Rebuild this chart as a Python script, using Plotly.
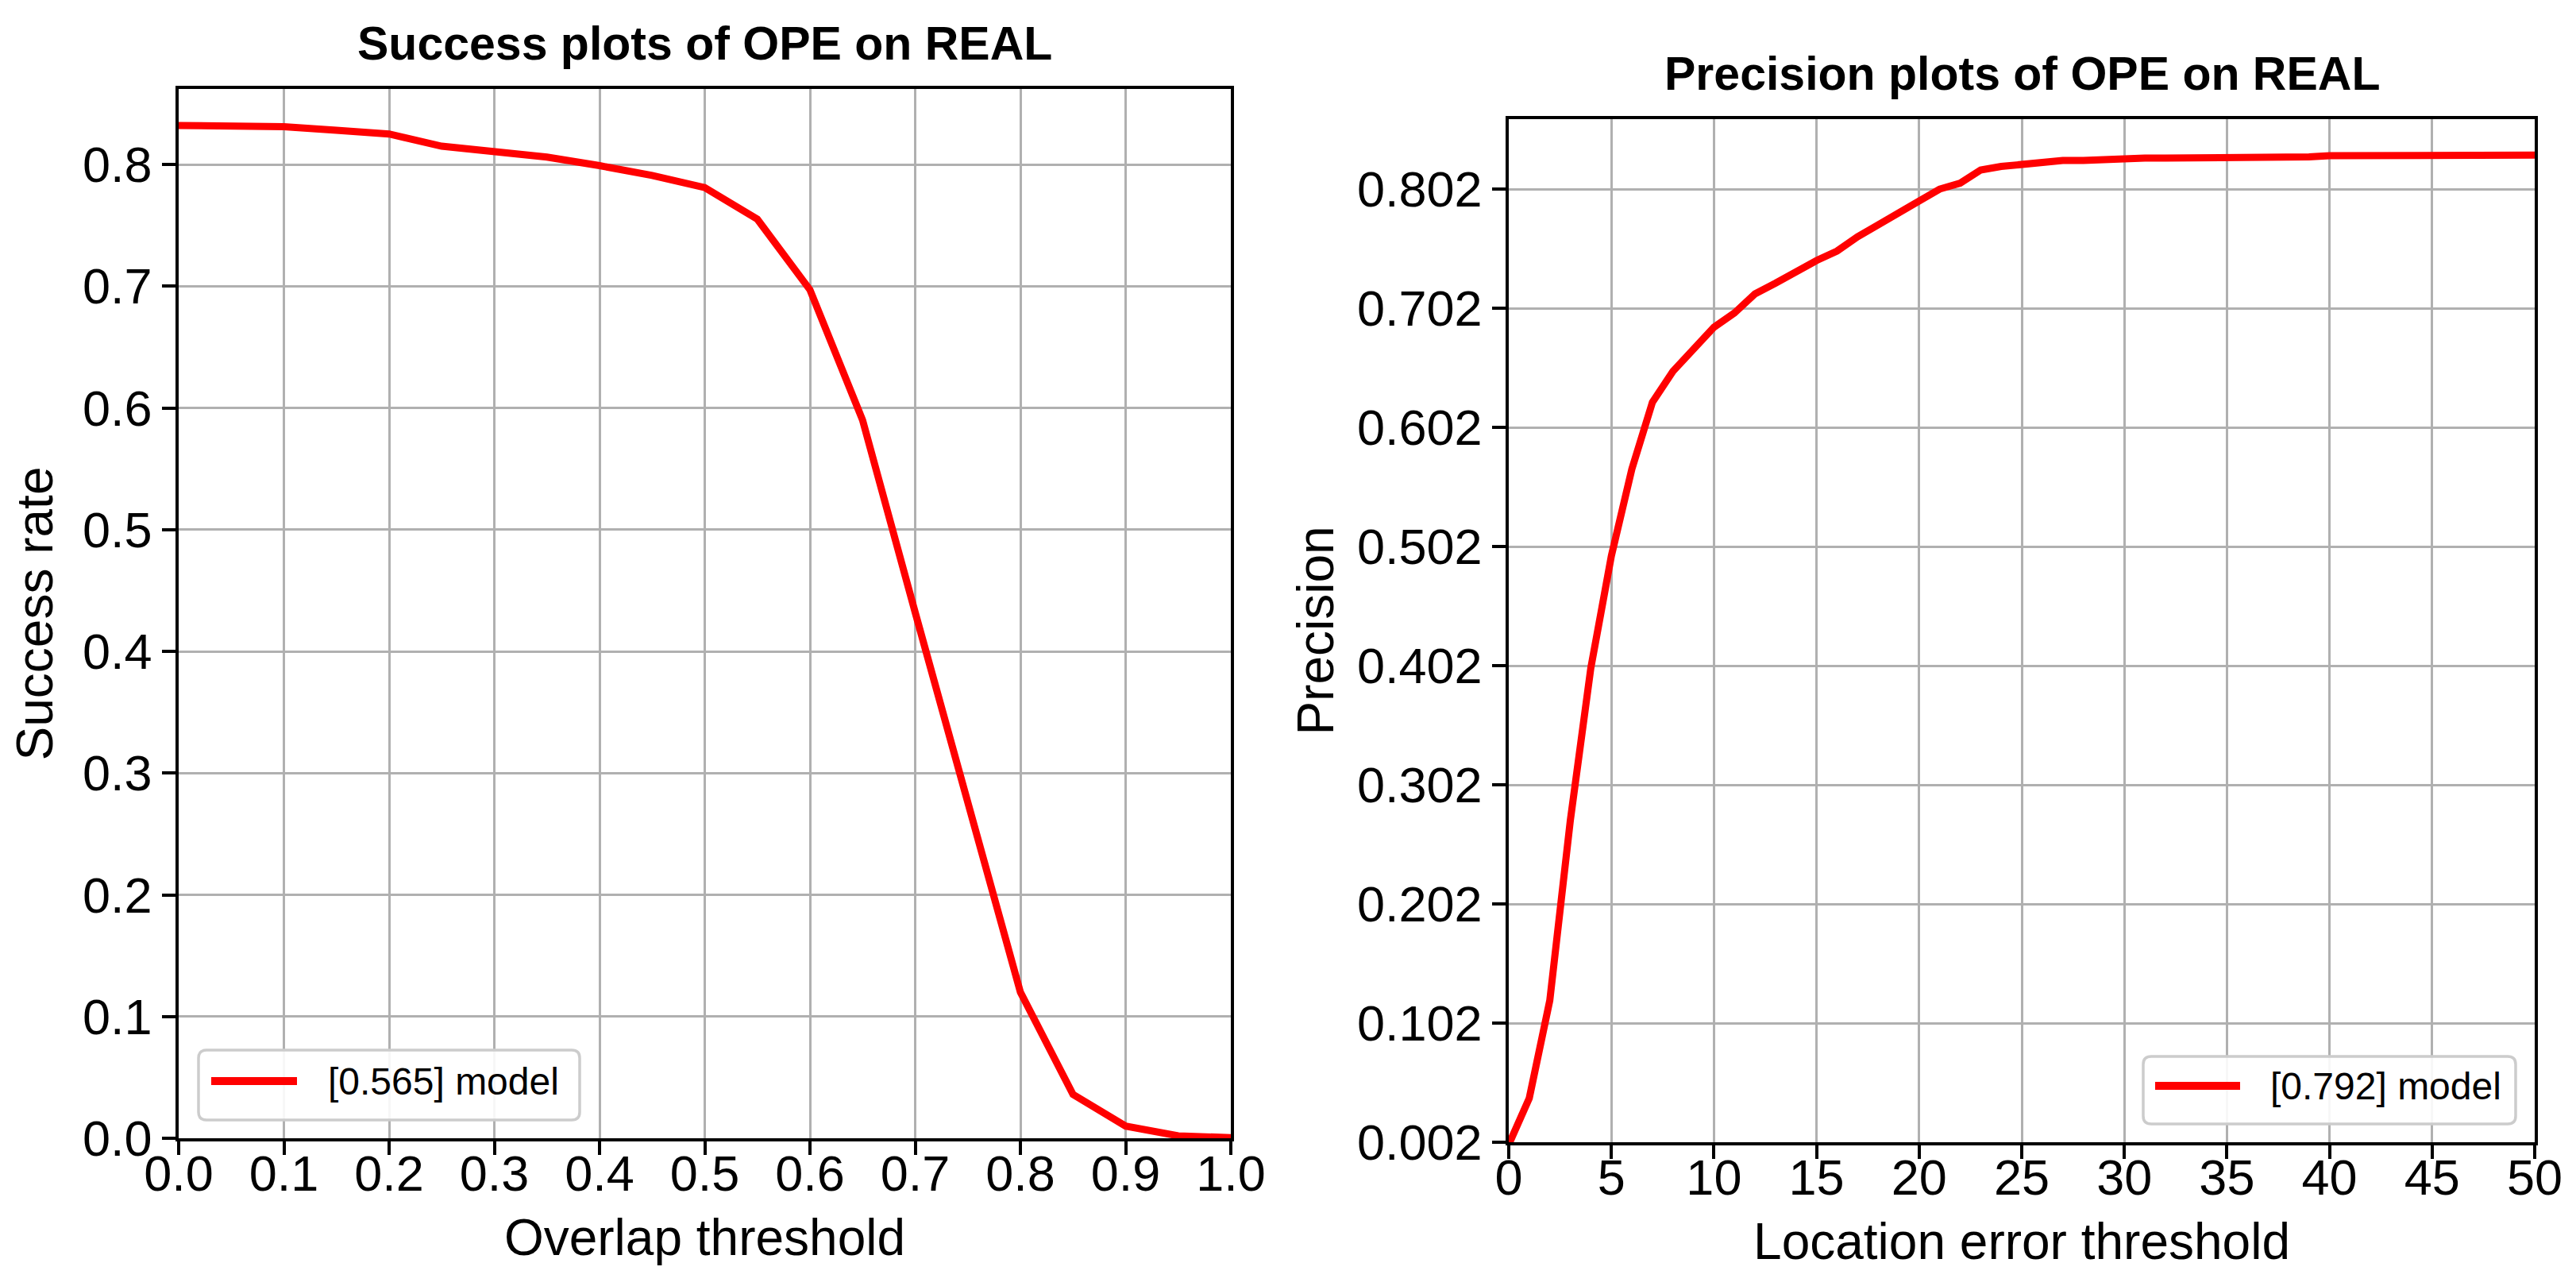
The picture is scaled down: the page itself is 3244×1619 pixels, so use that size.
import plotly.graph_objects as go

# ---------------- data ----------------
success_x = [0.0, 0.05, 0.1, 0.15, 0.2, 0.25, 0.3, 0.35, 0.4, 0.45, 0.5,
             0.55, 0.6, 0.65, 0.7, 0.75, 0.8, 0.85, 0.9, 0.95, 1.0]
success_y = [0.832, 0.831, 0.831, 0.828, 0.825, 0.815, 0.811, 0.806, 0.799, 0.791, 0.781,
             0.755, 0.697, 0.590, 0.432, 0.276, 0.120, 0.036, 0.010, 0.002, 0.0005]
success_name = "[0.565] model"

precision_x = [0, 1, 2, 3, 4, 5, 6, 7, 8, 9, 10, 11, 12, 13, 14, 15, 16, 17, 18, 19, 20,
               21, 22, 23, 24, 25, 26, 27, 28, 29, 30, 31, 32, 33, 34, 35, 36, 37, 38, 39, 40,
               41, 42, 43, 44, 45, 46, 47, 48, 49, 50]
precision_y = [0.000, 0.039, 0.121, 0.272, 0.400, 0.494, 0.567, 0.623, 0.649, 0.667, 0.686,
               0.698, 0.714, 0.723, 0.733, 0.742, 0.750, 0.762, 0.772, 0.782, 0.791,
               0.802, 0.807, 0.818, 0.821, 0.823, 0.824, 0.826, 0.826, 0.827, 0.827,
               0.828, 0.828, 0.828, 0.829, 0.829, 0.829, 0.829, 0.829, 0.829, 0.830,
               0.830, 0.830, 0.830, 0.830, 0.8305, 0.8305, 0.8305, 0.8305, 0.8305, 0.8305]
precision_name = "[0.792] model"

success_xticks = [0.0, 0.1, 0.2, 0.3, 0.4, 0.5, 0.6, 0.7, 0.8, 0.9, 1.0]
success_xticktext = ["0.0", "0.1", "0.2", "0.3", "0.4", "0.5", "0.6", "0.7", "0.8", "0.9", "1.0"]
success_yticks = [0.0, 0.1, 0.2, 0.3, 0.4, 0.5, 0.6, 0.7, 0.8]
success_yticktext = ["0.0", "0.1", "0.2", "0.3", "0.4", "0.5", "0.6", "0.7", "0.8"]
precision_xticks = [0, 5, 10, 15, 20, 25, 30, 35, 40, 45, 50]
precision_xticktext = ["0", "5", "10", "15", "20", "25", "30", "35", "40", "45", "50"]
precision_yticks = [0.002, 0.102, 0.202, 0.302, 0.402, 0.502, 0.602, 0.702, 0.802]
precision_yticktext = ["0.002", "0.102", "0.202", "0.302", "0.402", "0.502", "0.602", "0.702", "0.802"]

titles = ["Success plots of OPE on REAL", "Precision plots of OPE on REAL"]
xlabels = ["Overlap threshold", "Location error threshold"]
ylabels = ["Success rate", "Precision"]

# ---------------- layout constants ----------------
W, H = 3244, 1619
RED = "#ff0000"
FONT = "Liberation Sans, Arial, Helvetica, sans-serif"


def px(x):
    return x / W


def py(y):
    return 1 - y / H


def rounded_path(x0, y0, x1, y1, r):
    pts = [
        ("M", [(x0 + r, y0)]),
        ("L", [(x1 - r, y0)]),
        ("Q", [(x1, y0), (x1, y0 + r)]),
        ("L", [(x1, y1 - r)]),
        ("Q", [(x1, y1), (x1 - r, y1)]),
        ("L", [(x0 + r, y1)]),
        ("Q", [(x0, y1), (x0, y1 - r)]),
        ("L", [(x0, y0 + r)]),
        ("Q", [(x0, y0), (x0 + r, y0)]),
    ]
    s = ""
    for cmd, ps in pts:
        s += cmd + " " + " ".join(f"{px(a):.6f},{py(b):.6f}" for a, b in ps) + " "
    return s + "Z"


fig = go.Figure()
fig.add_trace(go.Scatter(x=success_x, y=success_y, mode="lines", name=success_name,
                         line=dict(color=RED, width=9), showlegend=False,
                         xaxis="x", yaxis="y"))
fig.add_trace(go.Scatter(x=precision_x, y=precision_y, mode="lines", name=precision_name,
                         line=dict(color=RED, width=9), showlegend=False,
                         xaxis="x2", yaxis="y2"))

axis_common = dict(
    showline=True, linecolor="black", linewidth=3.5, mirror=True,
    showgrid=True, gridcolor="#b0b0b0", gridwidth=3,
    ticks="outside", ticklen=17, tickwidth=3.5, tickcolor="black",
    tickfont=dict(family=FONT, size=63, color="black"),
    zeroline=False, automargin=False,
)
title_font = dict(family=FONT, size=64, color="black")

fig.update_layout(
    width=W, height=H,
    margin=dict(l=0, r=0, t=0, b=0),
    paper_bgcolor="white", plot_bgcolor="white",
    showlegend=False,
    xaxis=dict(domain=[px(217), px(1542)], range=[0, 1], tickmode="array",
               tickvals=success_xticks, ticktext=success_xticktext,
               ticklabelstandoff=-30,
               title=dict(text=xlabels[0], font=title_font, standoff=25),
               anchor="y", **axis_common),
    yaxis=dict(domain=[py(1425), py(104)], range=[0, 0.862], tickmode="array",
               tickvals=success_yticks, ticktext=success_yticktext,
               title=dict(text=ylabels[0], font=title_font, standoff=25),
               anchor="x", **axis_common),
    xaxis2=dict(domain=[px(1892), px(3184)], range=[0, 50], tickmode="array",
                tickvals=precision_xticks, ticktext=precision_xticktext,
                ticklabelstandoff=-30,
                title=dict(text=xlabels[1], font=title_font, standoff=25),
                anchor="y2", **axis_common),
    yaxis2=dict(domain=[py(1430), py(142)], range=[0.002, 0.8607], tickmode="array",
                tickvals=precision_yticks, ticktext=precision_yticktext,
                title=dict(text=ylabels[1], font=title_font, standoff=10),
                anchor="x2", **axis_common),
)

annotations = []
for i, t in enumerate(titles):
    sfx = "" if i == 0 else "2"
    annotations.append(dict(
        text=f"<b>{t}</b>", xref=f"x{sfx} domain", yref=f"y{sfx} domain",
        x=0.5, y=1, xanchor="center", yanchor="bottom", yshift=22,
        showarrow=False, font=dict(family=FONT, size=59, color="black")))

# custom legends (box, line sample, label)
legends = [
    dict(box=(242, 1314, 722, 1402), line=(258, 366, 1353), text_x=403, name=success_name),
    dict(box=(2691, 1322, 3160, 1407), line=(2706, 2813, 1359), text_x=2849, name=precision_name),
]
shapes = []
for lg in legends:
    x0, y0, x1, y1 = lg["box"]
    shapes.append(dict(type="path", xref="paper", yref="paper",
                       path=rounded_path(x0, y0, x1, y1, 10),
                       fillcolor="rgba(255,255,255,0.9)",
                       line=dict(color="#cccccc", width=3.5), layer="above"))
    lx0, lx1, ly = lg["line"]
    shapes.append(dict(type="line", xref="paper", yref="paper",
                       x0=px(lx0), x1=px(lx1), y0=py(ly), y1=py(ly),
                       line=dict(color=RED, width=10), layer="above"))
    annotations.append(dict(text=lg["name"], xref="paper", yref="paper",
                            x=px(lg["text_x"]), y=py(lg["line"][2]),
                            xanchor="left", yanchor="middle", showarrow=False,
                            font=dict(family=FONT, size=48, color="black")))

fig.update_layout(shapes=shapes, annotations=annotations)
fig.write_html("out.html")
